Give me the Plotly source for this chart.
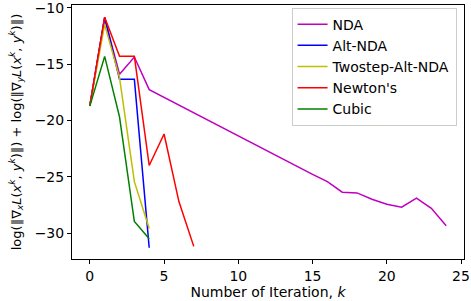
import plotly.graph_objects as go

iters_nda = list(range(25))
nda = [-18.7, -10.9, -15.9, -14.37, -17.26, -17.95, -18.64, -19.32, -20.0, -20.69,
       -21.37, -22.05, -22.74, -23.42, -24.1, -24.78, -25.43, -26.37, -26.43, -27.0,
       -27.43, -27.7, -26.9, -27.8, -29.35]
iters_alt = [0, 1, 2, 3, 4]
alt_nda = [-18.7, -10.85, -16.35, -16.35, -31.3]
iters_two = [0, 1, 2, 3, 4]
twostep = [-18.7, -11.48, -16.2, -25.43, -29.6]
iters_newton = [0, 1, 2, 3, 4, 5, 6, 7]
newton = [-18.7, -10.83, -14.31, -14.31, -24.0, -21.2, -27.2, -31.18]
iters_cubic = [0, 1, 2, 3, 4]
cubic = [-18.73, -14.31, -19.68, -28.97, -30.5]

series = [
    ("NDA", iters_nda, nda, "#bf00bf"),
    ("Alt-NDA", iters_alt, alt_nda, "#0000ff"),
    ("Twostep-Alt-NDA", iters_two, twostep, "#bfbf00"),
    ("Newton's", iters_newton, newton, "#ff0000"),
    ("Cubic", iters_cubic, cubic, "#008000"),
]

fig = go.Figure()
for name, xs, ys, c in series:
    fig.add_trace(go.Scatter(x=xs, y=ys, mode="lines", name=name,
                             line=dict(color=c, width=1.5)))

font = dict(family="DejaVu Sans", size=14, color="black")
fig.update_layout(
    width=471, height=301,
    margin=dict(l=72, r=7, t=5, b=42),
    plot_bgcolor="white", paper_bgcolor="white",
    font=font,
    showlegend=True,
    legend=dict(x=0.981, y=0.99, xanchor="right", yanchor="top",
                bgcolor="rgba(255,255,255,0.8)", bordercolor="#cccccc",
                borderwidth=1, font=dict(family="DejaVu Sans", size=14),
                tracegroupgap=0, itemwidth=30),
    xaxis=dict(range=[-1.2, 25.2], tickvals=[0, 5, 10, 15, 20, 25],
               showgrid=False, zeroline=False, showline=True, mirror=True,
               linecolor="black", linewidth=1, ticks="outside", ticklen=4,
               tickcolor="black", automargin=False,
               title=dict(text="Number of Iteration, <i>k</i>", standoff=2,
                          font=dict(size=14))),
    yaxis=dict(range=[-32.3, -9.75], tickvals=[-10, -15, -20, -25, -30],
               showgrid=False, zeroline=False, showline=True, mirror=True,
               linecolor="black", linewidth=1, ticks="outside", ticklen=4,
               tickcolor="black", automargin=False, ticklabeloverflow="allow",
               title=dict(text="log(‖∇<sub><i>x</i></sub><i>L</i>(<i>x</i><sup><i>k</i></sup>, <i>y</i><sup><i>k</i></sup>)‖) + log(‖∇<sub><i>y</i></sub><i>L</i>(<i>x</i><sup><i>k</i></sup>, <i>y</i><sup><i>k</i></sup>)‖)",
                          standoff=10, font=dict(size=13))),
)

fig.write_html("out.html", config={"displayModeBar": False},
               post_script="document.body.style.margin='0';document.body.style.padding='0';")
